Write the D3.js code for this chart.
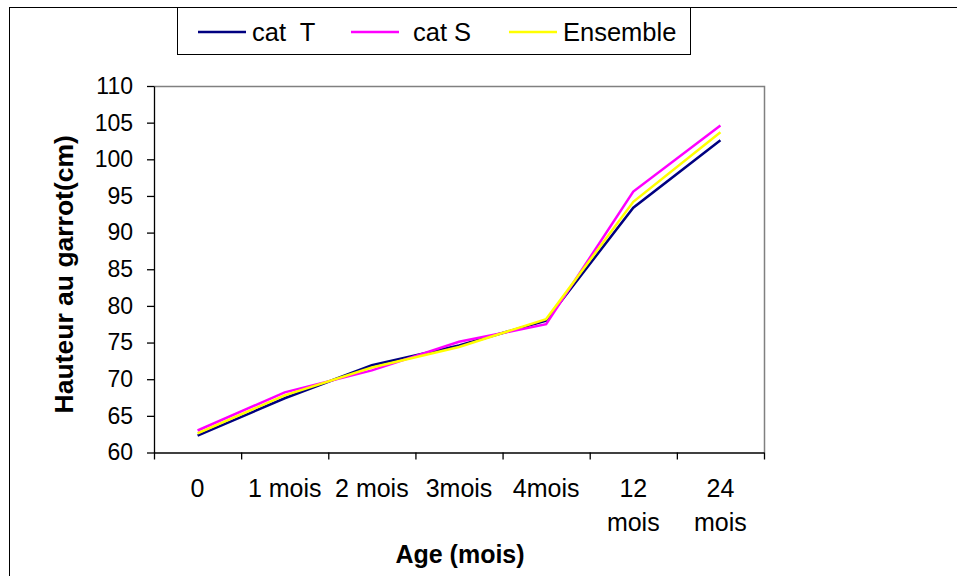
<!DOCTYPE html>
<html>
<head>
<meta charset="utf-8">
<script src="https://cdn.jsdelivr.net/npm/d3@7"></script>
<style>
  body { margin: 0; background: #fff; }
  text { font-family: "Liberation Sans", Arial, sans-serif; }
</style>
</head>
<body>
<div id="chart-container"></div>
<script>
// Values.
const categories = ["0", "1 mois", "2 mois", "3mois", "4mois", "12 mois", "24 mois"];
const categoryLines = [["0"], ["1 mois"], ["2 mois"], ["3mois"], ["4mois"], ["12", "mois"], ["24", "mois"]];
const catT = [62.3, 67.4, 71.9, 74.6, 78.0, 93.4, 102.6];
const catS = [63.0, 68.2, 71.2, 75.1, 77.5, 95.6, 104.6];
const ensemble = [62.6, 67.8, 71.6, 74.4, 78.2, 94.2, 103.7];
const yTicks = [60, 65, 70, 75, 80, 85, 90, 95, 100, 105, 110];
const seriesNames = ["cat  T", "cat S", "Ensemble"];

const series = [
    {name: seriesNames[0], values: catT, color: "#000080"},
    {name: seriesNames[1], values: catS, color: "#ff00ff"},
    {name: seriesNames[2], values: ensemble, color: "#ffff00"}
];

const chartWidth = 957;
const chartHeight = 576;
const plotLeft = 154;
const plotRight = 764;
const plotTop = 86;
const plotBottom = 452.5;

const x = d3.scaleBand()
    .domain(categories)
    .range([plotLeft, plotRight])
    .padding(0);

// Boundary ticks between categories (Excel style).
const xEdges = d3.scaleLinear()
    .domain([0, categories.length])
    .range([plotLeft, plotRight]);

const y = d3.scaleLinear()
    .domain([60, 110])
    .range([plotBottom, plotTop]);

const chart = d3.select("#chart-container").append("svg")
    .attr("width", chartWidth)
    .attr("height", chartHeight);

// Outer frame.
chart.append("rect")
    .attr("x", 9.5).attr("y", 7.5)
    .attr("width", 1000).attr("height", 1000)
    .attr("fill", "none")
    .attr("stroke", "#000");

// Plot area border (top and right in gray).
chart.append("path")
    .attr("d", `M${plotLeft},${plotTop + 0.5}H${plotRight + 0.5}V${plotBottom}`)
    .attr("fill", "none")
    .attr("stroke", "#808080")
    .attr("stroke-width", 1.5);

// y-axis.
const yAxis = chart.append("g")
    .attr("transform", `translate(${plotLeft}, 0)`)
    .call(d3.axisLeft(y).tickValues(yTicks).tickSize(7).tickPadding(14).tickSizeOuter(0));
yAxis.selectAll("text")
    .attr("font-size", 23)
    .attr("fill", "#000")
    .style("font-family", '"Liberation Sans", Arial, sans-serif');

// x-axis (ticks at category boundaries).
const xAxis = chart.append("g")
    .attr("transform", `translate(0, ${plotBottom})`)
    .call(d3.axisBottom(xEdges).tickValues(d3.range(categories.length + 1)).tickSize(7).tickFormat("").tickSizeOuter(0));

chart.selectAll(".domain, .tick line")
    .attr("stroke", "#000")
    .attr("stroke-width", 1.3);

// x tick labels, wrapped like the original.
chart.selectAll(".xlabel")
    .data(categories)
    .enter()
    .append("text")
    .attr("class", "xlabel")
    .attr("x", d => x(d) + x.bandwidth() / 2)
    .attr("y", 497)
    .attr("text-anchor", "middle")
    .attr("font-size", 25)
    .each(function(d, i) {
        d3.select(this).selectAll("tspan")
            .data(categoryLines[i])
            .enter()
            .append("tspan")
            .attr("x", x(d) + x.bandwidth() / 2)
            .attr("dy", (t, j) => j === 0 ? 0 : 34)
            .text(t => t);
    });

// Lines.
const line = d3.line()
    .x((d, i) => x(categories[i]) + x.bandwidth() / 2)
    .y(d => y(d));

chart.selectAll(".series")
    .data(series)
    .enter()
    .append("path")
    .attr("class", "series")
    .attr("d", d => line(d.values))
    .attr("fill", "none")
    .attr("stroke", d => d.color)
    .attr("stroke-width", 2.5)
    .attr("stroke-linejoin", "miter");

// Axis titles.
chart.append("text")
    .attr("x", (plotLeft + plotRight) / 2 + 1)
    .attr("y", 563)
    .attr("text-anchor", "middle")
    .attr("font-size", 25)
    .attr("font-weight", "bold")
    .text("Age (mois)");

chart.append("text")
    .attr("transform", `translate(73, ${(plotTop + plotBottom) / 2 + 5}) rotate(-90)`)
    .attr("text-anchor", "middle")
    .attr("font-size", 26.5)
    .attr("font-weight", "bold")
    .text("Hauteur au garrot(cm)");

// Legend.
const legend = chart.append("g");
legend.append("rect")
    .attr("x", 177.5).attr("y", 7.5)
    .attr("width", 513).attr("height", 47)
    .attr("fill", "#fff")
    .attr("stroke", "#000");

const legendX = [198, 351, 509];
const legendItems = legend.selectAll(".item")
    .data(series)
    .enter()
    .append("g")
    .attr("class", "item")
    .attr("transform", (d, i) => `translate(${legendX[i]}, 32)`);

legendItems.append("line")
    .attr("x1", 0).attr("x2", 48)
    .attr("stroke", d => d.color)
    .attr("stroke-width", 2.5);

legendItems.append("text")
    .attr("x", (d, i) => i === 1 ? 62 : 54)
    .attr("y", 9)
    .attr("font-size", 25.5)
    .style("white-space", "pre")
    .text(d => d.name);
</script>
</body>
</html>
